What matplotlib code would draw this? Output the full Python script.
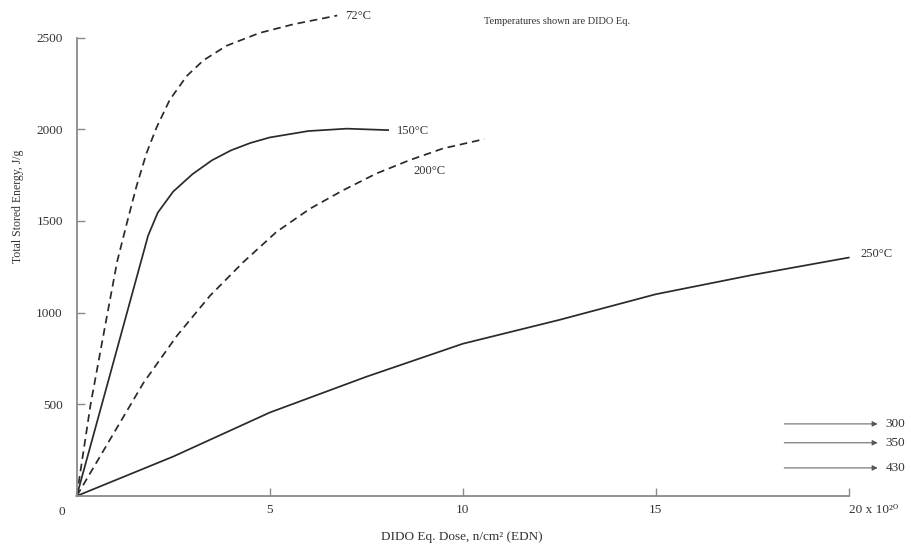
import numpy as np
import matplotlib
matplotlib.use("Agg")
import matplotlib.pyplot as plt

plt.rcParams['font.family'] = ['Liberation Serif', 'DejaVu Serif']
plt.rcParams['lines.scale_dashes'] = False

# Curves (dose in 1e20 n/cm^2, stored energy in J/g).
x_72 = [0, 0.36, 0.8, 1.05, 1.29, 1.55, 1.81, 2.07, 2.41, 2.85, 3.28, 3.88, 4.74, 5.61, 6.75]
y_72 = [0, 500, 1000, 1280, 1480, 1690, 1870, 2010, 2160, 2290, 2375, 2455, 2525, 2572, 2620]

x_150 = [0, 0.9, 1.85, 2.1, 2.5, 3.0, 3.5, 4.0, 4.5, 5.0, 6.0, 7.0, 8.07]
y_150 = [0, 690, 1420, 1545, 1660, 1755, 1830, 1885, 1925, 1955, 1990, 2003, 1995]

x_200 = [0, 1.73, 2.59, 3.45, 4.31, 5.17, 6.04, 6.9, 7.76, 8.62, 9.49, 10.56]
y_200 = [0, 617, 872, 1091, 1274, 1439, 1566, 1667, 1758, 1831, 1895, 1946]

x_250 = [0, 2.5, 5.0, 7.5, 10.0, 12.5, 15.0, 17.5, 20.0]
y_250 = [0, 215, 455, 650, 830, 960, 1100, 1205, 1300]

# Off-scale temperatures shown as arrows on the right.
arrow_labels = ['300', '350', '430']
arrow_y = [393, 290, 153]

x_ticks = [5, 10, 15, 20]
x_ticklabels = ['5', '10', '15', '20 x 10²⁰']
y_ticks = [500, 1000, 1500, 2000, 2500]

ink = '#2a2a2a'
axis_col = '#8a8a8a'
text_col = '#333333'

fig = plt.figure(figsize=(9.11, 5.46), dpi=100)
ax = fig.add_axes([0.0842, 0.0916, 0.8474, 0.8397])

ax.plot(x_72, y_72, color=ink, lw=1.25, dashes=(5.5, 3.5), clip_on=False)
ax.plot(x_150, y_150, color=ink, lw=1.25, clip_on=False)
ax.plot(x_200, y_200, color=ink, lw=1.25, dashes=(5.5, 3.5), clip_on=False)
ax.plot(x_250, y_250, color=ink, lw=1.25, clip_on=False)

fs = 9
ax.text(6.95, 2617, '72°C', fontsize=fs, color=text_col, va='center', clip_on=False)
ax.text(8.3, 1990, '150°C', fontsize=fs, color=text_col, va='center')
ax.text(8.72, 1770, '200°C', fontsize=fs, color=text_col, va='center')
ax.text(20.3, 1317, '250°C', fontsize=fs, color=text_col, va='center', clip_on=False)
ax.text(12.44, 2590, 'Temperatures shown are DIDO Eq.', fontsize=7.5, color=text_col,
        ha='center', va='center', clip_on=False)

for lab, yv in zip(arrow_labels, arrow_y):
    ax.annotate('', xy=(20.75, yv), xytext=(18.33, yv),
                arrowprops=dict(arrowstyle='-|>', color='#555555', lw=0.7,
                                mutation_scale=8, shrinkA=0, shrinkB=0),
                annotation_clip=False)
    ax.text(20.95, yv, lab, fontsize=9.5, color=text_col, va='center', clip_on=False)

ax.set_xlim(0, 20)
ax.set_ylim(0, 2500)
for side in ['top', 'right']:
    ax.spines[side].set_visible(False)
for side in ['left', 'bottom']:
    ax.spines[side].set_color(axis_col)
    ax.spines[side].set_linewidth(1.3)

ax.set_xticks(x_ticks)
ax.set_xticklabels(x_ticklabels)
ax.set_yticks(y_ticks)
ax.tick_params(direction='in', length=6, width=1.0, color=axis_col,
               labelsize=9.5, labelcolor=text_col)
ax.tick_params(axis='y', pad=10)
ax.tick_params(axis='x', pad=6)
ax.get_xticklabels()[-1].set_horizontalalignment('left')
ax.text(-0.38, -87, '0', fontsize=9.5, color=text_col, ha='center', va='center', clip_on=False)

fig.text(462 / 911, 1 - 537 / 546, 'DIDO Eq. Dose, n/cm² (EDN)', fontsize=9.5, color=text_col,
         ha='center', va='center')
fig.text(18 / 911, 1 - 206 / 546, 'Total Stored Energy, J/g', fontsize=8.5, color=text_col,
         rotation=90, ha='center', va='center')

fig.savefig('out.png', dpi=100)
